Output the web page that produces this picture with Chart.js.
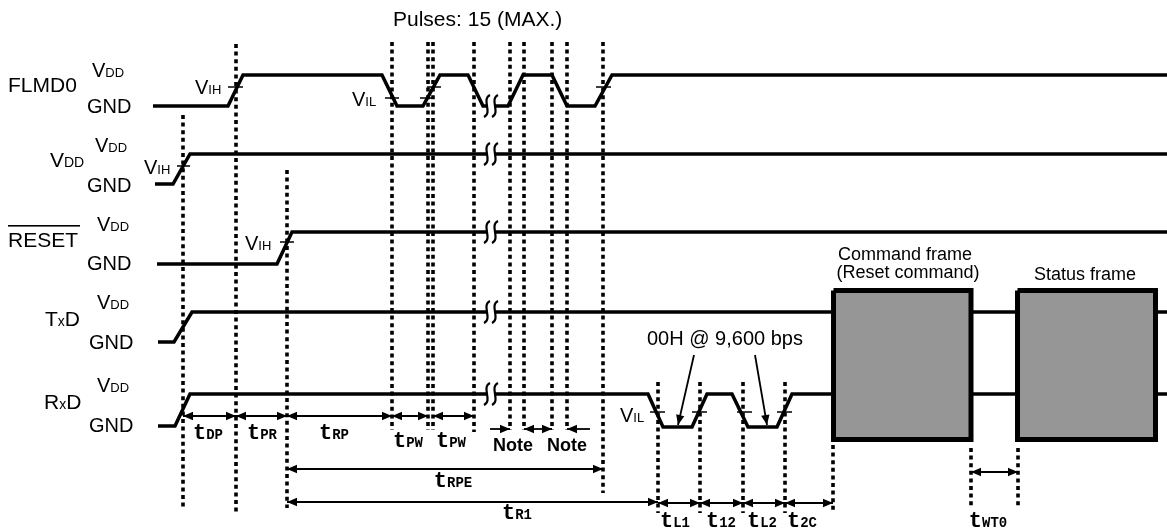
<!DOCTYPE html>
<html>
<head>
<meta charset="utf-8">
<script src="https://cdn.jsdelivr.net/npm/chart.js@4.4.0/dist/chart.umd.min.js"></script>
<style>
  html, body { margin: 0; padding: 0; background: #fff; }
  #wrap { width: 1167px; height: 529px; }
</style>
</head>
<body>
<div id="wrap"><canvas id="timing"></canvas></div>
<script>
// drawing units: x = time axis (0..1167), y = level axis (0..529, downwards)
const X_MAX = 1167, Y_MAX = 529;

// waveform vertices [x, level]
const flmd0 = [[153,106],[228,106],[243,75],[382,75],[397,106],[423,106],[440,75],[468,75],[483,106],
               [508,106],[523,75],[552,75],[567,106],[595,106],[612,75],[1167,75]];
const vddPin = [[155,184],[173,184],[190,154],[1167,154]];
const resetPin = [[157,264],[277,264],[292,232],[1167,232]];
const txdPin = [[[158,342],[174,342],[192,312],[832,312]], [[972,312],[1017,312]], [[1157,312],[1167,312]]];
const rxdPin = [[[158,426],[175,426],[190,394],[648,394],[663,427],[692,427],[707,394],[732,394],
                 [748,427],[777,427],[792,394],[832,394]], [[972,394],[1017,394]], [[1157,394],[1167,394]]];

// frames [x1, x2, top, bottom]
const cmdFrame = [833.5, 971, 290.5, 439.5];
const statusFrame = [1017.5, 1155.5, 290.5, 439.5];

// timing reference lines [x, top, bottom]
const refLines = [[183,115,510],[236,44,512],[287,170,508],[392,42,430],[428,42,430],[433,42,430],
                  [474,42,432],[510,42,430],[524,42,430],[552,42,430],[567,42,430],[603,42,493],
                  [658,382,513],[700,382,513],[743,382,513],[785,382,513],[833,445,513],
                  [971,448,507],[1018,448,507]];

// threshold marks [x1, x2, level]
const thresholds = [[228,243,87],[385,399,98],[420,434,98],[427,441,87],[596,611,87],
                    [177,190,166],[280,294,242],[650,665,412],[692,707,412],[737,752,412],[777,792,412]];

// interval arrows [x1, y1, x2, y2, heads]
const intervals = [
  [183,416,236,416,'both'],[236,416,287,416,'both'],[287,416,392,416,'both'],
  [392,416,428,416,'both'],[433,416,474,416,'both'],
  [490,429,510,429,'end'],[524,429,552,429,'both'],[590,429,567,429,'end'],
  [287,469,603,469,'both'],[287,502,658,502,'both'],
  [658,503,700,503,'both'],[700,503,743,503,'both'],[743,503,785,503,'both'],[785,503,833,503,'both'],
  [971,472,1018,472,'both'],
  [694,355,678,425,'end'],[755,355,767,425,'end']
];

// break marks [x, level]
const breaks = [[491,106],[491,154],[491,232],[491,312],[491,394]];

const SANS = '"Liberation Sans", Arial, sans-serif';
const MONO = '"Liberation Mono", "Courier New", monospace';
const big = '20px ' + SANS, small = '13px ' + SANS;
const name = '21px ' + SANS, nameSmall = '14px ' + SANS;
const tBig = 'bold 22px ' + MONO, tSmall = 'bold 14px ' + MONO;
const V = s => [['V', big], [s, small]];
const T = s => [['t', tBig], [s, tSmall]];
const plain = (s, f) => [[s, f || big]];

const texts = [
  { x: 8, y: 92, parts: plain('FLMD0', name) },
  { x: 92, y: 77, parts: V('DD') },
  { x: 87, y: 113, parts: plain('GND') },
  { x: 195, y: 94, parts: V('IH') },
  { x: 352, y: 106, parts: V('IL') },
  { x: 50, y: 167, parts: [['V', name], ['DD', nameSmall]] },
  { x: 95, y: 152, parts: V('DD') },
  { x: 144, y: 174, parts: V('IH') },
  { x: 87, y: 192, parts: plain('GND') },
  { x: 8, y: 247, parts: plain('RESET', name), overline: true },
  { x: 97, y: 231, parts: V('DD') },
  { x: 87, y: 270, parts: plain('GND') },
  { x: 245, y: 250, parts: V('IH') },
  { x: 45, y: 326, parts: [['T', name], ['x', nameSmall], ['D', name]] },
  { x: 97, y: 309, parts: V('DD') },
  { x: 89, y: 349, parts: plain('GND') },
  { x: 44, y: 409, parts: [['R', name], ['x', nameSmall], ['D', name]] },
  { x: 97, y: 392, parts: V('DD') },
  { x: 89, y: 432, parts: plain('GND') },
  { x: 620, y: 422, parts: V('IL') },
  { x: 393, y: 26, parts: plain('Pulses: 15 (MAX.)', '21px ' + SANS) },
  { x: 905, y: 260, parts: plain('Command frame', '18px ' + SANS), align: 'center' },
  { x: 908, y: 278, parts: plain('(Reset command)', '18px ' + SANS), align: 'center' },
  { x: 1085, y: 280, parts: plain('Status frame', '18px ' + SANS), align: 'center' },
  { x: 647, y: 345, parts: plain('00H @ 9,600 bps') },
  { x: 513, y: 451, parts: plain('Note', 'bold 18px ' + SANS), align: 'center' },
  { x: 567, y: 451, parts: plain('Note', 'bold 18px ' + SANS), align: 'center' },
  { x: 208, y: 439, parts: T('DP'), align: 'center' },
  { x: 262, y: 439, parts: T('PR'), align: 'center' },
  { x: 334, y: 439, parts: T('RP'), align: 'center' },
  { x: 408, y: 447, parts: T('PW'), align: 'center' },
  { x: 451, y: 447, parts: T('PW'), align: 'center' },
  { x: 453, y: 487, parts: T('RPE'), align: 'center' },
  { x: 517, y: 519, parts: T('R1'), align: 'center' },
  { x: 675, y: 527, parts: T('L1'), align: 'center' },
  { x: 721, y: 527, parts: T('12'), align: 'center' },
  { x: 762, y: 527, parts: T('L2'), align: 'center' },
  { x: 802, y: 527, parts: T('2C'), align: 'center' },
  { x: 988, y: 527, parts: T('WT0'), align: 'center' }
];

function pts(list) { return list.map(([x, y]) => ({ x, y })); }
function joined(segs) {
  const out = [];
  segs.forEach((s, i) => {
    if (i) out.push({ x: s[0][0], y: null });
    s.forEach(([x, y]) => out.push({ x, y }));
  });
  return out;
}
function rect([x1, x2, t, b]) { return pts([[x1,t],[x2,t],[x2,b],[x1,b],[x1,t]]); }

const base = { showLine: true, pointRadius: 0, borderColor: '#000', fill: false, tension: 0 };
const datasets = [];

[cmdFrame, statusFrame].forEach(f => datasets.push({ ...base, data: rect(f), borderWidth: 5,
  fill: 'shape', backgroundColor: '#969696', borderJoinStyle: 'miter' }));
[flmd0, vddPin, resetPin].forEach(w => datasets.push({ ...base, data: pts(w), borderWidth: 3.5, borderJoinStyle: 'miter' }));
[txdPin, rxdPin].forEach(w => datasets.push({ ...base, data: joined(w), borderWidth: 3.5, borderJoinStyle: 'miter' }));
datasets.push({ ...base, data: joined(refLines.map(([x, t, b]) => [[x, t], [x, b]])),
  borderWidth: 3.6, borderDash: [4, 3.6] });
datasets.push({ ...base, data: joined(thresholds.map(([a, b, y]) => [[a, y], [b, y]])), borderWidth: 1.6 });
intervals.forEach(([x1, y1, x2, y2, heads]) => datasets.push({ ...base,
  data: pts([[x1, y1], [x2, y2]]), borderWidth: 1.8, heads }));

const whiteBg = {
  id: 'whiteBg',
  beforeDraw(c) { const ctx = c.ctx; ctx.save(); ctx.fillStyle = '#fff'; ctx.fillRect(0, 0, c.width, c.height); ctx.restore(); }
};

const arrowHeads = {
  id: 'arrowHeads',
  afterDatasetsDraw(c) {
    const ctx = c.ctx;
    ctx.save();
    ctx.fillStyle = '#000';
    c.data.datasets.forEach((ds, i) => {
      if (!ds.heads) return;
      const p = c.getDatasetMeta(i).data;
      const a = p[0], b = p[p.length - 1];
      const tip = (t, f) => {
        const dx = t.x - f.x, dy = t.y - f.y, len = Math.hypot(dx, dy);
        const ux = dx / len, uy = dy / len, L = 10, W = 4.2;
        ctx.beginPath();
        ctx.moveTo(t.x, t.y);
        ctx.lineTo(t.x - ux * L - uy * W, t.y - uy * L + ux * W);
        ctx.lineTo(t.x - ux * L + uy * W, t.y - uy * L - ux * W);
        ctx.closePath();
        ctx.fill();
      };
      tip(b, a);
      if (ds.heads === 'both') tip(a, b);
    });
    ctx.restore();
  }
};

const breakMarks = {
  id: 'breakMarks',
  afterDatasetsDraw(c) {
    const ctx = c.ctx, sx = c.scales.x, sy = c.scales.y;
    ctx.save();
    breaks.forEach(([x, y]) => {
      const px = sx.getPixelForValue(x), py = sy.getPixelForValue(y);
      ctx.fillStyle = '#fff';
      ctx.fillRect(px - 4, py - 3, 8, 6);
      ctx.strokeStyle = '#000';
      ctx.lineWidth = 2.2;
      [-4, 4].forEach(o => {
        ctx.beginPath();
        ctx.moveTo(px + o + 3, py - 11);
        ctx.bezierCurveTo(px + o - 6, py - 7, px + o + 6, py + 7, px + o - 3, py + 11);
        ctx.stroke();
      });
    });
    ctx.restore();
  }
};

const labels = {
  id: 'labels',
  afterDraw(c) {
    const ctx = c.ctx, sx = c.scales.x, sy = c.scales.y;
    ctx.save();
    ctx.fillStyle = '#000';
    ctx.textBaseline = 'alphabetic';
    ctx.textAlign = 'left';
    texts.forEach(t => {
      let w = 0;
      t.parts.forEach(([s, f]) => { ctx.font = f; w += ctx.measureText(s).width; });
      let px = sx.getPixelForValue(t.x);
      const py = sy.getPixelForValue(t.y);
      if (t.align === 'center') px -= w / 2;
      const x0 = px;
      t.parts.forEach(([s, f]) => { ctx.font = f; ctx.fillText(s, px, py); px += ctx.measureText(s).width; });
      if (t.overline) {
        ctx.fillRect(x0, py - 22, w + 2, 1.6);
      }
    });
    ctx.restore();
  }
};

new Chart(document.getElementById('timing'), {
  type: 'scatter',
  data: { datasets },
  options: {
    responsive: true,
    maintainAspectRatio: false,
    animation: false,
    events: [],
    layout: { padding: 0 },
    plugins: { legend: { display: false }, tooltip: { enabled: false } },
    scales: {
      x: { type: 'linear', min: 0, max: X_MAX, display: false },
      y: { type: 'linear', min: 0, max: Y_MAX, reverse: true, display: false }
    }
  },
  plugins: [whiteBg, arrowHeads, breakMarks, labels]
});
</script>
</body>
</html>
